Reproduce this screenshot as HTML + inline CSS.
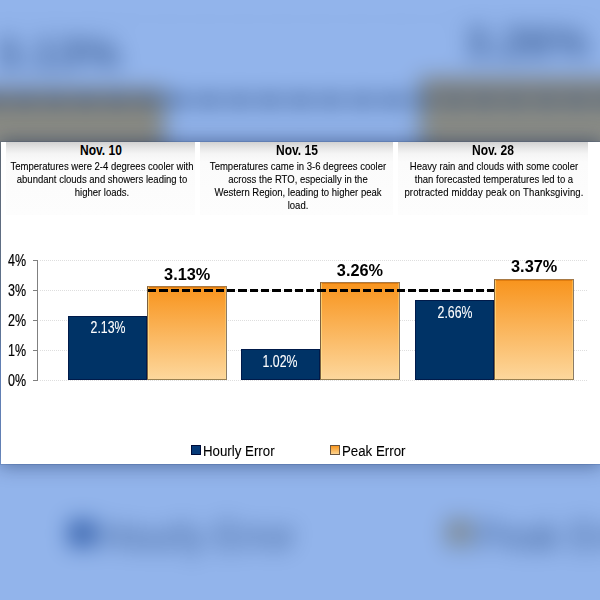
<!DOCTYPE html>
<html><head><meta charset="utf-8"><style>
*{margin:0;padding:0;box-sizing:border-box}
html,body{width:600px;height:600px;overflow:hidden;background:#fff}
body{position:relative;font-family:"Liberation Sans",Arial,sans-serif;color:#000}
.chart{position:absolute;left:0;top:142px;width:600px;height:322px;background:linear-gradient(to right,transparent 1px,#fff 1px)}
.chart div{position:absolute}
.box{top:0;height:72.6px;background:linear-gradient(#d2d2d2 0px,#e6e6e6 6px,#f5f5f5 12px,#fbfbfb 20px,#fdfdfd 100%)}
.nt{transform:scaleX(0.82);white-space:nowrap}
.ttl{width:200px;text-align:center;font-weight:bold;font-size:14.5px;line-height:15px;transform-origin:100px 0;transform:scaleX(0.83)}
.body{width:240px;text-align:center;font-size:11.5px;line-height:13px;transform-origin:120px 0;color:#000;transform:scaleX(0.828);-webkit-text-stroke:0.1px #000}
.grid{left:40px;width:548px;height:1px;background:repeating-linear-gradient(to right,#dedede 0 1px,transparent 1px 2px)}
.tick{left:33px;width:5px;height:1px;background:#808080}
.axis{left:37px;width:1.2px;background:#808080}
.ylab{left:-74.5px;width:100px;text-align:right;font-size:16px;line-height:15px;transform-origin:100% 0;transform:scaleX(0.78);-webkit-text-stroke:0.2px #000}
.hbar{background:#003366;border:1px solid #001a4a}
.pbar{background:linear-gradient(#f8941d,#fdd79c);border:1px solid;border-color:#a87a45 #8a7a68 #9a8050 #7a6040;box-shadow:inset 1px 0 0 rgba(255,235,150,0.55),inset -1px 0 0 rgba(255,235,150,0.35),inset 0 1px 0 rgba(200,100,0,0.5)}
.hlab{width:100px;text-align:center;color:#fff;font-size:16.2px;line-height:16px;transform-origin:50px 0;transform:scaleX(0.76);-webkit-text-stroke:0.1px #fff}
.plab{width:100px;text-align:center;font-weight:bold;font-size:16.3px;line-height:16px}
.dash{height:3.4px;background:repeating-linear-gradient(to right,#000 0 8.3px,transparent 8.3px 11.3px)}
.lsq{width:9.5px;height:9.4px}
.hsq{background:#063a78;border:1px solid #000c38}
.psq{background:linear-gradient(#f8961e,#fdd38e);border:1px solid #6a5540}
.leg{font-size:15.3px;line-height:15px;white-space:nowrap;color:#000;transform:scaleX(0.868);transform-origin:0 0;-webkit-text-stroke:0.1px #000}
#bgclip{position:absolute;left:0;top:0;width:600px;height:600px;overflow:hidden}
#bgwrap{position:absolute;left:-60px;top:-60px;width:720px;height:720px;overflow:hidden;background:#fff;filter:blur(11px) hue-rotate(8deg) saturate(1.12)}
#bgwrap .chart{transform-origin:0 0;transform:translate(-390.15px,-384.73px) scale(2.715)}
#bgwrap .plab,#bgwrap .leg{color:#3a3a3a;-webkit-text-stroke:0}
#bgwrap .plab{margin-top:-1.7px}
#bgwrap .hsq{background:#37506e;border-color:#37506e}
#tint{position:absolute;left:0;top:0;width:600px;height:600px;background:rgba(62,122,219,0.565)}
#fg{filter:blur(0.3px)}
#shadow{position:absolute;left:1px;top:142px;width:599px;height:322px;box-shadow:0 0 0 1px rgba(0,30,90,0.12), 0 0 18px 2px rgba(0,20,60,0.42)}
</style></head>
<body>
<div id="bgclip"><div id="bgwrap"><div class="chart">
<div class="box" style="left:6px;width:189px"></div>
<div class="nt ttl" style="left:0.5px;top:0.91px">Nov. 10</div>
<div class="nt body" style="left:-18.3px;top:17.70px">Temperatures were 2-4 degrees cooler with<br>abundant clouds and showers leading to<br>higher loads.</div>
<div class="box" style="left:200px;width:193px"></div>
<div class="nt ttl" style="left:196.5px;top:0.91px">Nov. 15</div>
<div class="nt body" style="left:177.7px;top:17.70px">Temperatures came in 3-6 degrees cooler<br>across the RTO, especially in the<br>Western Region, leading to higher peak<br>load.</div>
<div class="box" style="left:398px;width:190px"></div>
<div class="nt ttl" style="left:393.0px;top:0.91px">Nov. 28</div>
<div class="nt body" style="left:374.2px;top:17.70px">Heavy rain and clouds with some cooler<br>than forecasted temperatures led to a<br><span style="letter-spacing:0.16px">protracted midday peak on Thanksgiving.</span></div>
<div class="grid" style="top:238.00px"></div>
<div class="tick" style="top:238.00px"></div>
<div class="nt ylab" style="top:230.81px">0%</div>
<div class="grid" style="top:208.00px"></div>
<div class="tick" style="top:208.00px"></div>
<div class="nt ylab" style="top:200.81px">1%</div>
<div class="grid" style="top:178.00px"></div>
<div class="tick" style="top:178.00px"></div>
<div class="nt ylab" style="top:170.81px">2%</div>
<div class="grid" style="top:148.00px"></div>
<div class="tick" style="top:148.00px"></div>
<div class="nt ylab" style="top:140.81px">3%</div>
<div class="grid" style="top:118.00px"></div>
<div class="tick" style="top:118.00px"></div>
<div class="nt ylab" style="top:110.81px">4%</div>
<div class="axis" style="top:118.00px;height:121px"></div>
<div class="hbar" style="left:67.90px;top:174.10px;width:79.40px;height:63.90px"></div>
<div class="pbar" style="left:147.30px;top:144.10px;width:79.80px;height:93.90px"></div>
<div class="nt hlab" style="left:57.60px;top:177.45px">2.13%</div>
<div class="plab" style="left:137.20px;top:124.21px">3.13%</div>
<div class="hbar" style="left:240.80px;top:207.40px;width:79.30px;height:30.60px"></div>
<div class="pbar" style="left:320.10px;top:140.20px;width:79.70px;height:97.80px"></div>
<div class="nt hlab" style="left:230.45px;top:210.95px">1.02%</div>
<div class="plab" style="left:309.95px;top:120.41px">3.26%</div>
<div class="hbar" style="left:414.70px;top:158.20px;width:79.60px;height:79.80px"></div>
<div class="pbar" style="left:494.30px;top:136.90px;width:79.70px;height:101.10px"></div>
<div class="nt hlab" style="left:404.50px;top:162.45px">2.66%</div>
<div class="plab" style="left:484.15px;top:116.41px">3.37%</div>
<div class="dash" style="left:147.9px;width:346.1px;top:146.80px"></div>
<div class="lsq hsq" style="left:191.2px;top:303.3px"></div>
<div class="lsq psq" style="left:330.3px;top:303.3px"></div>
<div class="leg" style="left:203px;top:301.14px">Hourly Error</div>
<div class="leg" style="left:342px;top:301.14px">Peak Error</div>
</div></div></div>
<div id="tint"></div>
<div id="shadow"></div>
<div class="chart" id="fg">
<div class="box" style="left:6px;width:189px"></div>
<div class="nt ttl" style="left:0.5px;top:0.91px">Nov. 10</div>
<div class="nt body" style="left:-18.3px;top:17.70px">Temperatures were 2-4 degrees cooler with<br>abundant clouds and showers leading to<br>higher loads.</div>
<div class="box" style="left:200px;width:193px"></div>
<div class="nt ttl" style="left:196.5px;top:0.91px">Nov. 15</div>
<div class="nt body" style="left:177.7px;top:17.70px">Temperatures came in 3-6 degrees cooler<br>across the RTO, especially in the<br>Western Region, leading to higher peak<br>load.</div>
<div class="box" style="left:398px;width:190px"></div>
<div class="nt ttl" style="left:393.0px;top:0.91px">Nov. 28</div>
<div class="nt body" style="left:374.2px;top:17.70px">Heavy rain and clouds with some cooler<br>than forecasted temperatures led to a<br><span style="letter-spacing:0.16px">protracted midday peak on Thanksgiving.</span></div>
<div class="grid" style="top:238.00px"></div>
<div class="tick" style="top:238.00px"></div>
<div class="nt ylab" style="top:230.81px">0%</div>
<div class="grid" style="top:208.00px"></div>
<div class="tick" style="top:208.00px"></div>
<div class="nt ylab" style="top:200.81px">1%</div>
<div class="grid" style="top:178.00px"></div>
<div class="tick" style="top:178.00px"></div>
<div class="nt ylab" style="top:170.81px">2%</div>
<div class="grid" style="top:148.00px"></div>
<div class="tick" style="top:148.00px"></div>
<div class="nt ylab" style="top:140.81px">3%</div>
<div class="grid" style="top:118.00px"></div>
<div class="tick" style="top:118.00px"></div>
<div class="nt ylab" style="top:110.81px">4%</div>
<div class="axis" style="top:118.00px;height:121px"></div>
<div class="hbar" style="left:67.90px;top:174.10px;width:79.40px;height:63.90px"></div>
<div class="pbar" style="left:147.30px;top:144.10px;width:79.80px;height:93.90px"></div>
<div class="nt hlab" style="left:57.60px;top:177.45px">2.13%</div>
<div class="plab" style="left:137.20px;top:124.21px">3.13%</div>
<div class="hbar" style="left:240.80px;top:207.40px;width:79.30px;height:30.60px"></div>
<div class="pbar" style="left:320.10px;top:140.20px;width:79.70px;height:97.80px"></div>
<div class="nt hlab" style="left:230.45px;top:210.95px">1.02%</div>
<div class="plab" style="left:309.95px;top:120.41px">3.26%</div>
<div class="hbar" style="left:414.70px;top:158.20px;width:79.60px;height:79.80px"></div>
<div class="pbar" style="left:494.30px;top:136.90px;width:79.70px;height:101.10px"></div>
<div class="nt hlab" style="left:404.50px;top:162.45px">2.66%</div>
<div class="plab" style="left:484.15px;top:116.41px">3.37%</div>
<div class="dash" style="left:147.9px;width:346.1px;top:146.80px"></div>
<div class="lsq hsq" style="left:191.2px;top:303.3px"></div>
<div class="lsq psq" style="left:330.3px;top:303.3px"></div>
<div class="leg" style="left:203px;top:301.14px">Hourly Error</div>
<div class="leg" style="left:342px;top:301.14px">Peak Error</div>
</div>
</body></html>
